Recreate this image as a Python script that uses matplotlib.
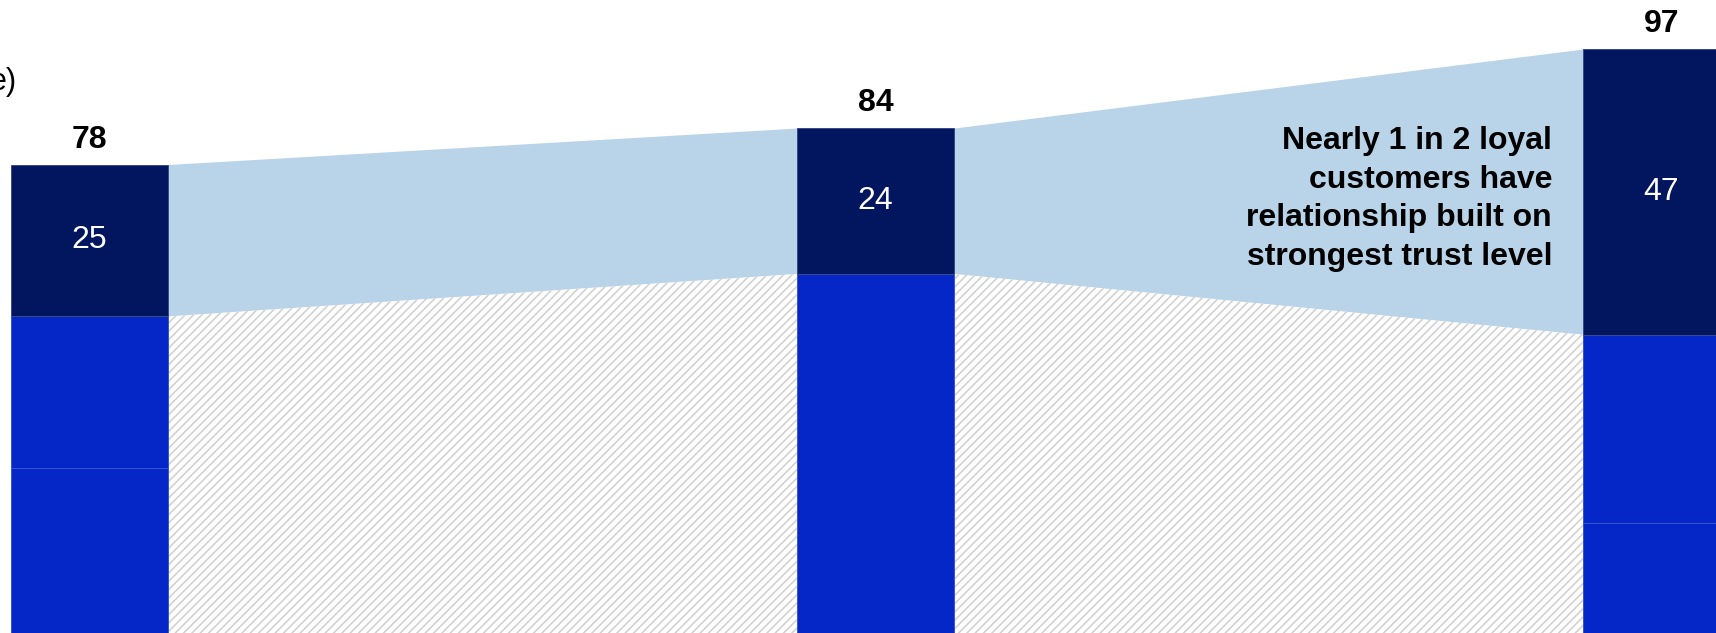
import matplotlib.pyplot as plt
import numpy as np

plt.rcParams['font.family'] = ['Liberation Sans', 'DejaVu Sans']
plt.rcParams['hatch.color'] = '#d2d2d2'
plt.rcParams['hatch.linewidth'] = 1.2

# stacked values, bottom -> top (middle bar shows no split below the dark part)
seg_bottom = [28, 60, 19]
seg_mid = [25, 0, 31]
seg_top = [25, 24, 47]
totals = [78, 84, 97]
note = "Nearly 1 in 2 loyal\ncustomers have\nrelationship built on\nstrongest trust level"

navy = '#02155f'
blue = '#0527c7'
band = '#b9d3e9'

x = np.arange(3)
w = 0.2

fig = plt.figure(figsize=(17.16, 6.33), dpi=100)
ax = fig.add_axes([0, 0, 1, 1])
ax.set_xlim(-0.1139, 2.0693)
ax.set_ylim(0.905, 105.07)
ax.axis('off')

base = np.array(seg_bottom) + np.array(seg_mid)
tot = base + np.array(seg_top)

# connecting bands between bars
for i in range(2):
    xs = [x[i] + w / 2, x[i + 1] - w / 2]
    ax.fill_between(xs, [base[i], base[i + 1]], [tot[i], tot[i + 1]],
                    color=band, linewidth=0, zorder=1)
    ax.fill_between(xs, [0, 0], [base[i], base[i + 1]], facecolor='white',
                    edgecolor='#d2d2d2', linewidth=0, hatch='////', zorder=1)

edge = '#3553d2'
ax.bar(x, seg_bottom, w, color=blue, edgecolor=edge, linewidth=0.7, zorder=2)
ax.bar(x, seg_mid, w, bottom=seg_bottom, color=blue, edgecolor=edge, linewidth=0.7, zorder=2)
ax.bar(x, seg_top, w, bottom=base, color=navy, edgecolor='#3a4a8a', linewidth=0.7, zorder=2)

for i in range(3):
    ax.text(x[i], base[i] + seg_top[i] / 2, str(seg_top[i]), color='white',
            fontsize=23, ha='center', va='center', zorder=3)
    ax.text(x[i], totals[i] + 4.1, str(totals[i]), color='black', fontsize=23,
            fontweight='bold', ha='center', va='center', zorder=3)

ax.text(1.8607, 72.3, note, fontsize=23, fontweight='bold', ha='right',
        va='center', multialignment='right', linespacing=1.37, zorder=3)

ax.text(-0.0922, 91.6, "e)", fontsize=22, ha='right', va='center')

fig.savefig('out.png', dpi=100)
